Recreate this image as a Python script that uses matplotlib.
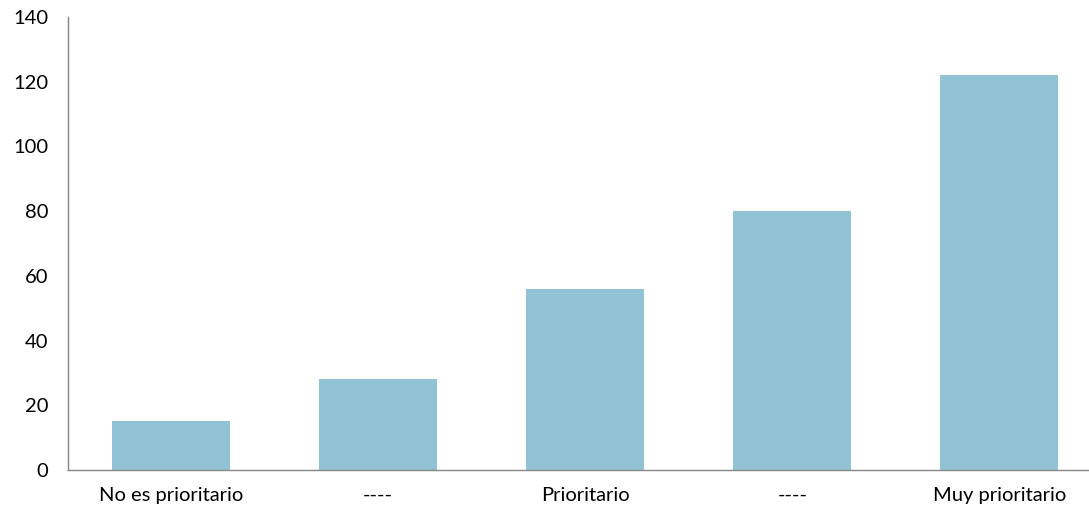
import matplotlib.pyplot as plt

# Datos
categorias = ['No es prioritario', '----', 'Prioritario', '----', 'Muy prioritario']
valores = [15, 28, 56, 80, 122]
color_barra = '#92c3d4'

plt.rcParams['font.family'] = ['Lato', 'DejaVu Sans']

fig = plt.figure(figsize=(10.89, 5.12), dpi=100)
ax = fig.add_axes([67.5 / 1089, 42 / 512, (1089 - 67.5) / 1089, (470 - 17) / 512])

x = list(range(len(categorias)))
ax.bar(x, valores, width=0.57, color=color_barra, zorder=2)

ax.set_xlim(-0.5, -0.5 + (1089 - 67.5) / 207.1)
ax.set_ylim(0, 140)
ax.set_yticks(range(0, 141, 20))
ax.set_xticks(x)
ax.set_xticklabels(categorias)

for lado in ['top', 'right']:
    ax.spines[lado].set_visible(False)
for lado in ['left', 'bottom']:
    ax.spines[lado].set_color('#868686')
    ax.spines[lado].set_linewidth(1)

ax.tick_params(axis='both', length=0, labelsize=14.5, colors='black')
ax.tick_params(axis='y', pad=14)
ax.tick_params(axis='x', pad=12)

plt.savefig('out.png', dpi=100)
